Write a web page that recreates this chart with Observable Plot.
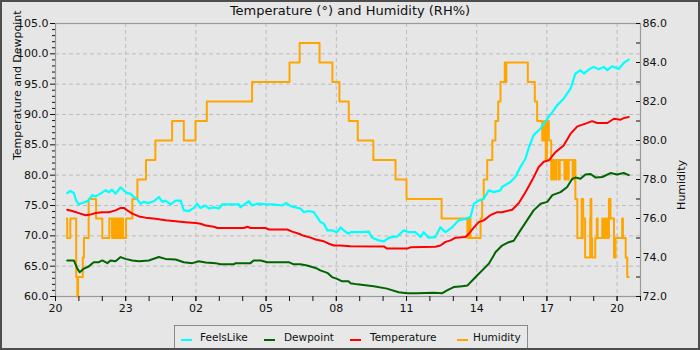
<!DOCTYPE html>
<html><head><meta charset="utf-8">
<script src="https://cdn.jsdelivr.net/npm/d3@7"></script>
<script src="https://cdn.jsdelivr.net/npm/@observablehq/plot@0.6"></script>
<style>
html,body{margin:0;padding:0;background:#e6e6e6}
#chart{position:relative;width:700px;height:350px;background:#e6e6e6;font-family:"DejaVu Sans",sans-serif;overflow:hidden;color:#111}
#chart svg{position:absolute;left:0;top:0}
#title{position:absolute;left:0;top:3px;width:700px;text-align:center;font-size:13px;line-height:16px}
#legend{position:absolute;left:174px;top:325px;width:352px;height:30px;border:1px solid #8a8a8a;background:#e8e8e8;font-size:10.5px}
#legend .sw{position:absolute;top:13px;width:11px;height:2px}
#legend .lb{position:absolute;top:5px;line-height:13px}
#border{position:absolute;left:0;top:0;width:700px;height:350px;box-sizing:border-box;border:2px solid #4e4e4e;pointer-events:none}
</style></head>
<body>
<div id="chart">
  <div id="title">Temperature (°) and Humidity (RH%)</div>
  <div id="legend"></div>
  <div id="border"></div>
</div>
<script>
// ---- data (minutes after 20:00 on day 1, value) ----
const seriesNames = ["FeelsLike", "Dewpoint", "Temperature", "Humidity"];
const seriesColors = ["#00ffff", "#006400", "#ff0000", "#ffa500"];

const feelsLike = [[30,77.05],[38,77.4],[47,77.05],[53,75.8],[60,75.2],[68,75.4],[77,75.6],[85,75.8],[94,76.7],[103,76.5],[115,76.95],[128,77.5],[137,77.2],[145,77.6],[154,76.95],[167,78.0],[175,77.5],[184,77.05],[192,76.95],[201,76.4],[209,76.1],[218,75.3],[226,75.6],[239,75.4],[252,75.7],[265,76.4],[274,75.6],[282,75.8],[295,75.2],[308,75.8],[321,75.8],[329,74.2],[342,74.1],[355,74.6],[363,75.3],[372,74.6],[385,75.0],[393,74.5],[406,74.7],[419,74.5],[428,75.2],[449,75.2],[470,75.2],[474,74.7],[487,75.3],[496,75.7],[504,75.0],[517,75.3],[543,75.2],[556,75.2],[581,75.0],[592,75.4],[603,74.9],[615,74.7],[628,74.5],[637,73.9],[650,74.1],[662,73.9],[671,73.1],[679,72.3],[688,72.0],[697,70.9],[709,70.9],[722,70.6],[731,71.4],[741,70.8],[752,70.35],[756,70.6],[782,70.6],[803,70.7],[812,69.7],[829,69.25],[842,69.1],[855,69.7],[876,69.9],[893,70.9],[906,70.6],[923,70.6],[936,69.8],[944,70.6],[957,69.7],[974,69.8],[987,71.4],[1000,70.6],[1017,71.4],[1034,72.55],[1051,72.8],[1064,73.1],[1073,75.3],[1085,75.8],[1098,76.1],[1111,77.5],[1124,77.2],[1141,77.5],[1145,78.05],[1167,78.9],[1179,79.7],[1192,81.35],[1205,82.7],[1214,84.6],[1226,86.6],[1244,87.7],[1261,89.3],[1274,90.4],[1286,91.5],[1303,92.6],[1321,94.3],[1333,96.75],[1346,97.3],[1355,96.75],[1367,97.4],[1380,97.85],[1393,97.45],[1406,97.85],[1415,97.3],[1427,97.95],[1444,97.5],[1457,98.5],[1470,99.05]];

const temperature = [[30,74.3],[43,74.1],[60,73.75],[77,73.4],[90,73.5],[103,73.75],[120,73.9],[137,73.9],[154,74.2],[167,74.6],[175,74.6],[184,74.2],[197,73.65],[214,73.2],[231,73.0],[256,72.8],[282,72.55],[308,72.4],[333,72.25],[359,72.1],[372,72.0],[385,71.7],[406,71.5],[415,71.3],[483,71.3],[492,71.5],[500,71.3],[538,71.3],[547,71.05],[594,71.05],[607,70.7],[624,70.35],[637,70.0],[654,69.7],[667,69.4],[688,69.1],[701,68.7],[714,68.4],[731,68.4],[756,68.3],[842,68.25],[850,67.9],[902,67.9],[910,68.1],[974,68.2],[987,68.4],[1000,69.0],[1013,69.25],[1026,69.7],[1051,69.8],[1060,70.35],[1073,71.4],[1085,72.25],[1098,72.55],[1115,73.4],[1133,73.9],[1145,73.9],[1171,74.3],[1188,75.4],[1205,77.2],[1222,79.15],[1239,81.35],[1252,82.2],[1265,82.45],[1282,83.8],[1303,84.9],[1321,86.85],[1338,88.05],[1359,88.5],[1376,88.9],[1389,88.6],[1415,88.6],[1432,89.3],[1449,89.15],[1457,89.4],[1470,89.6]];

const dewpoint = [[30,65.94],[47,65.94],[56,64.6],[62,64.0],[73,64.6],[85,64.95],[98,65.65],[111,65.65],[120,65.94],[133,65.5],[141,65.94],[154,65.8],[167,66.5],[179,66.2],[197,65.94],[214,65.8],[239,65.94],[265,66.5],[282,66.2],[308,66.1],[329,65.65],[351,65.5],[367,65.8],[385,65.6],[410,65.5],[423,65.3],[457,65.3],[462,65.5],[500,65.5],[508,65.94],[526,65.94],[543,65.66],[598,65.66],[611,65.3],[628,65.3],[645,65.1],[667,64.7],[679,64.3],[697,63.9],[709,63.2],[722,62.9],[735,62.5],[752,62.5],[756,62.2],[774,62.0],[816,61.7],[850,61.3],[880,60.7],[902,60.55],[927,60.55],[970,60.6],[992,60.55],[1004,61.0],[1021,61.55],[1043,61.7],[1056,61.8],[1068,62.6],[1081,63.45],[1098,64.55],[1111,65.4],[1124,66.8],[1128,67.3],[1145,68.4],[1162,68.95],[1175,69.2],[1192,70.9],[1209,72.55],[1226,74.2],[1244,75.3],[1261,75.6],[1274,76.7],[1295,77.2],[1312,78.05],[1325,79.4],[1333,79.6],[1346,79.4],[1359,80.1],[1372,80.2],[1385,79.6],[1402,79.7],[1423,80.35],[1440,80.1],[1457,80.35],[1470,80.0]];

const humidity = [[29,76],[30,75],[38,76],[53,73],[56,72],[58,73],[70,74],[73,75],[85,77],[104,76],[120,75],[138,76],[145,75],[148,76],[152,75],[155,76],[157,75],[160,76],[163,75],[166,76],[168,75],[171,76],[173,75],[181,76],[197,77],[210,78],[232,79],[256,80],[299,81],[329,80],[359,81],[388,82],[504,83],[600,84],[626,85],[677,84],[710,83],[728,82],[752,81],[775,80],[815,79],[872,78],[900,77],[990,76],[1056,75],[1058,76],[1060,75],[1062,76],[1064,75],[1090,76],[1094,77],[1098,78],[1107,79],[1120,80],[1128,81],[1135,82],[1141,83],[1152,84],[1154,83],[1156,84],[1211,83],[1229,82],[1235,81],[1248,80],[1253,81],[1257,79],[1260,81],[1265,80],[1271,78],[1275,79],[1280,78],[1284,79],[1290,78],[1293,79],[1305,78],[1308,79],[1313,78],[1316,79],[1326,78],[1330,79],[1333,77],[1338,75],[1349,77],[1350,75],[1352,77],[1353,76],[1358,74],[1371,76],[1372,77],[1374,75],[1376,74],[1384,75],[1388,76],[1390,75],[1402,76],[1406,75],[1410,76],[1414,75],[1419,77],[1423,76],[1432,74],[1436,75],[1453,76],[1455,75],[1462,74],[1466,73],[1470,73]];

// axis ranges / ticks
const xTickHours = [0, 3, 6, 9, 12, 15, 18, 21, 24];   // labels 20 23 02 ... 20
const leftDomain = [60, 105];
const rightDomain = [72, 86];
const leftMajor = [60, 65, 70, 75, 80, 85, 90, 95, 100, 105];
const rightMajor = [72, 74, 76, 78, 80, 82, 84, 86];

// ---- build ----
const startTime = new Date(2024, 6, 20, 20, 0, 0);
const at = m => new Date(startTime.getTime() + m * 60000);
const endTime = at(25 * 60);
const toLeft = h => leftDomain[0] + (h - rightDomain[0]) * (leftDomain[1] - leftDomain[0]) / (rightDomain[1] - rightDomain[0]);
const fromLeft = v => rightDomain[0] + (v - leftDomain[0]) * (rightDomain[1] - rightDomain[0]) / (leftDomain[1] - leftDomain[0]);

const xMajor = xTickHours.map(h => at(h * 60));
const xMinor = d3.range(0, 26).map(h => at(h * 60));
const leftMinor = d3.range(leftDomain[0], leftDomain[1] + 1).filter(v => v % 5 !== 0);
const rightAll = d3.range(rightDomain[0], rightDomain[1] + 1).map(toLeft);

const rows = (arr, name) => arr.map(([m, v]) => ({t: at(m), v, name}));
const W = 700, H = 350, mL = 55, mR = 60, mT = 23, mB = 54;
const gridStyle = {stroke: "#bcbcbc", strokeOpacity: 1, strokeDasharray: "4,3", strokeWidth: 1};

const chart = Plot.plot({
  width: W, height: H,
  marginLeft: mL, marginRight: mR, marginTop: mT, marginBottom: mB,
  style: {background: "transparent", fontFamily: "DejaVu Sans", fontSize: "11px", color: "#111"},
  x: {type: "time", domain: [startTime, endTime]},
  y: {domain: leftDomain},
  marks: [
    Plot.gridX(xMajor, gridStyle),
    Plot.gridY(leftMajor, gridStyle),
    Plot.frame({stroke: "#9a9a9a", strokeWidth: 1.2}),
    Plot.line(rows(humidity, "Humidity"), {x: "t", y: d => toLeft(d.v), curve: "step-after", stroke: seriesColors[3], strokeWidth: 2}),
    Plot.line(rows(feelsLike, "FeelsLike"), {x: "t", y: "v", stroke: seriesColors[0], strokeWidth: 2.2}),
    Plot.line(rows(dewpoint, "Dewpoint"), {x: "t", y: "v", stroke: seriesColors[1], strokeWidth: 2}),
    Plot.line(rows(temperature, "Temperature"), {x: "t", y: "v", stroke: seriesColors[2], strokeWidth: 2}),
    Plot.axisX(xMinor, {tickSize: 5, tickFormat: () => "", label: null, stroke: "#111"}),
    Plot.axisX(xMajor, {tickSize: 5, tickPadding: 3, tickFormat: d3.timeFormat("%H"), label: null, fontSize: 11, fill: "#111"}),
    Plot.axisY(leftMinor, {tickSize: 3, tickFormat: () => "", label: null}),
    Plot.axisY(leftMajor, {tickSize: 5, tickPadding: 2, tickFormat: d => d.toFixed(1), label: null, fontSize: 11}),
    Plot.tickY(rightAll, {y: d => d, insetLeft: W - mL - mR - 4, stroke: "#111"}),
    Plot.axisY(rightMajor.map(toLeft), {anchor: "right", tickSize: 0, tickPadding: 2, tickFormat: v => Math.round(fromLeft(v)).toFixed(1), label: null, fontSize: 11}),
    Plot.text(["Temperature and Dewpoint"], {frameAnchor: "left", dx: -38, rotate: -90, fontSize: 11, fill: "#111"}),
    Plot.text(["Humidity"], {frameAnchor: "right", dx: 41, rotate: -90, fontSize: 11, fill: "#111"})
  ]
});
document.getElementById("chart").insertBefore(chart, document.getElementById("title"));

// legend
const swX = [6, 89, 175, 282], lbX = [25, 109, 195, 298];
const legend = document.getElementById("legend");
seriesNames.forEach((n, i) => {
  const s = document.createElement("div");
  s.className = "sw"; s.style.left = swX[i] + "px"; s.style.background = seriesColors[i];
  const l = document.createElement("div");
  l.className = "lb"; l.style.left = lbX[i] + "px"; l.textContent = n;
  legend.appendChild(s); legend.appendChild(l);
});
</script>
</body></html>
